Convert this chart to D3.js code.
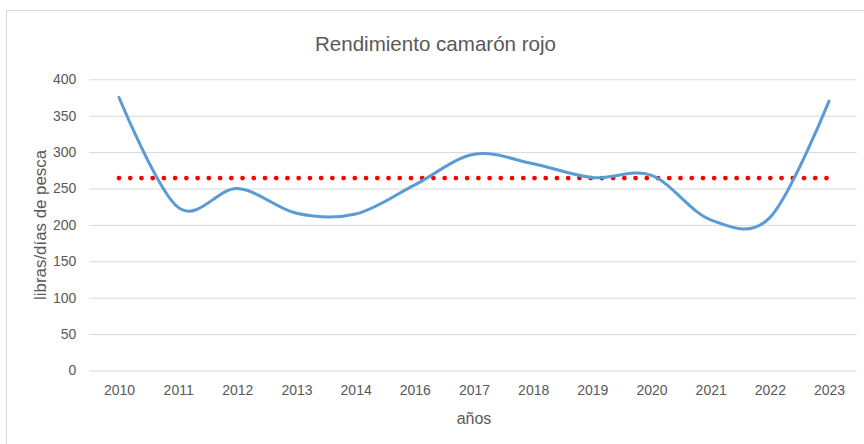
<!DOCTYPE html>
<html>
<head>
<meta charset="utf-8">
<script src="https://cdn.jsdelivr.net/npm/d3@7"></script>
<style>
  body { margin: 0; background: #fff; }
  svg { display: block; }
  text { font-family: "Liberation Sans", Arial, sans-serif; fill: #595959; }
</style>
</head>
<body>
<svg id="chart" width="864" height="444"></svg>
<script>
// data
let years = ["2010", "2011", "2012", "2013", "2014", "2016", "2017",
             "2018", "2019", "2020", "2021", "2022", "2023"]
let rendimiento = [375, 224, 250, 216, 215, 255, 297, 284, 265, 268, 207, 210, 370]
let yTicks = [0, 50, 100, 150, 200, 250, 300, 350, 400]

let title = "Rendimiento camarón rojo"
let xTitle = "años"
let yTitle = "libras/días de pesca"

let promedio = d3.mean(rendimiento)

function draw() {
  let svg = d3.select("#chart")
  let m = { left: 89.4, right: 858.6, top: 79.3, bottom: 370.5 }

  // outer chart border (right/bottom run off the picture)
  svg.append("rect")
    .attr("x", 6.5).attr("y", 10.5)
    .attr("width", 900).attr("height", 500)
    .attr("fill", "none")
    .attr("stroke", "#d9d9d9")

  let x = d3.scalePoint().domain(years).range([m.left, m.right]).padding(0.5)
  let y = d3.scaleLinear().domain([0, 400]).range([m.bottom, m.top])

  // gridlines + y labels
  let gy = svg.append("g")
    .attr("transform", `translate(${m.left},0)`)
    .call(d3.axisLeft(y).tickValues(yTicks).tickSize(-(m.right - m.left - 2)).tickPadding(13))
  gy.select(".domain").remove()
  gy.selectAll(".tick line").attr("stroke", "#d9d9d9").attr("stroke-width", 1)
  gy.selectAll(".tick text")
    .attr("font-size", 14).attr("fill", "#595959")
    .style("font-family", "'Liberation Sans', Arial, sans-serif")

  // x labels
  let gx = svg.append("g")
    .attr("transform", `translate(0,${m.bottom})`)
    .call(d3.axisBottom(x).tickSize(0).tickPadding(15))
  gx.select(".domain").remove()
  gx.selectAll(".tick text")
    .attr("font-size", 14).attr("fill", "#595959")
    .style("font-family", "'Liberation Sans', Arial, sans-serif")

  // average line (round dots)
  let avgLine = d3.line().x(d => x(d)).y(_ => y(promedio))
  svg.append("path")
    .datum(years)
    .attr("d", avgLine)
    .attr("fill", "none")
    .attr("stroke", "#ff0000")
    .attr("stroke-width", 4.8)
    .attr("stroke-linecap", "round")
    .attr("stroke-dasharray", "0 11.23")

  // smoothed yield line
  let line = d3.line()
    .x((d, i) => x(years[i]))
    .y(d => y(d))
    .curve(d3.curveCardinal.tension(0))
  svg.append("path")
    .datum(rendimiento)
    .attr("d", line)
    .attr("fill", "none")
    .attr("stroke", "#5b9bd5")
    .attr("stroke-width", 3)
    .attr("stroke-linecap", "round")
    .attr("stroke-linejoin", "round")

  // titles
  svg.append("text")
    .attr("x", 435.5).attr("y", 51)
    .attr("text-anchor", "middle")
    .attr("font-size", 21)
    .attr("textLength", 241)
    .attr("lengthAdjust", "spacingAndGlyphs")
    .text(title)

  svg.append("text")
    .attr("x", (m.left + m.right) / 2).attr("y", 424)
    .attr("text-anchor", "middle")
    .attr("font-size", 16)
    .text(xTitle)

  svg.append("text")
    .attr("transform", `translate(46,${(m.top + m.bottom) / 2}) rotate(-90)`)
    .attr("text-anchor", "middle")
    .attr("font-size", 16)
    .attr("textLength", 150)
    .attr("lengthAdjust", "spacingAndGlyphs")
    .text(yTitle)
}

draw()
</script>
</body>
</html>
